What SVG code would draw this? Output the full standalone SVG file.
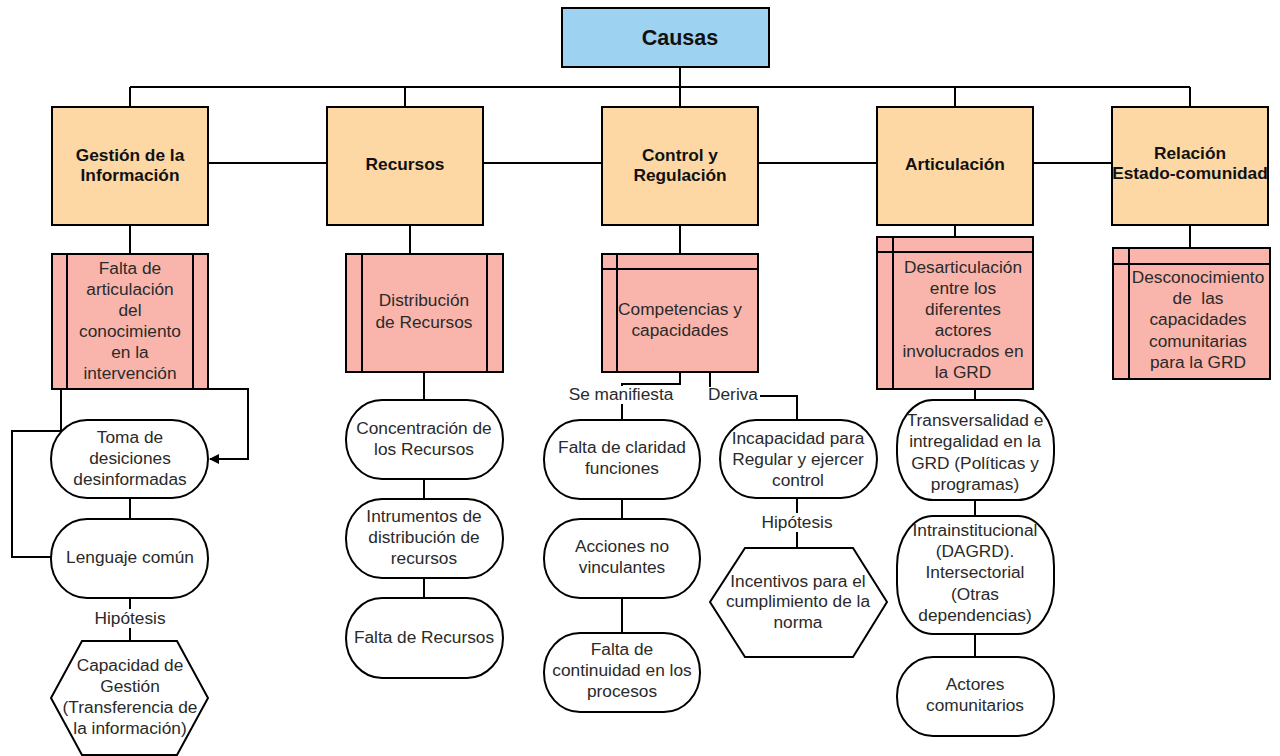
<svg xmlns="http://www.w3.org/2000/svg" width="1280" height="756" viewBox="0 0 1280 756">
<style>
.ln{fill:none;stroke:#000;stroke-width:2}
.top{fill:#9dd2f1;stroke:#000;stroke-width:2}
.cat{fill:#fdd8a4;stroke:#000;stroke-width:2}
.pk{fill:#f9b5ac;stroke:#000;stroke-width:2}
.wh{fill:#fff;stroke:#000;stroke-width:2}
text{font-family:"Liberation Sans",Arial,sans-serif;font-size:17.3px;fill:#2a2a2a;text-anchor:middle}
.b{font-weight:bold;font-size:17.3px;fill:#111}
.t{font-weight:bold;font-size:21.5px;fill:#111}
.lbl{fill:#fff;stroke:none}
</style>
<defs>
<marker id="arr" markerWidth="10" markerHeight="10" refX="9" refY="5" orient="auto" markerUnits="userSpaceOnUse">
<path d="M0,0 L10,5 L0,10 Z" fill="#000"/>
</marker>
</defs>
<g id="connectors">
<path class="ln" d="M680,67 V87 M130,87 H1190 M130,87 V107 M405,87 V107 M680,87 V107 M955,87 V107 M1190,87 V107"/>
<path class="ln" d="M208,163 H327 M483,163 H602 M758,163 H877 M1033,163 H1112"/>
<path class="ln" d="M130,225 V254 M410,225 V254 M680,225 V254 M955,225 V237 M1190,225 V248"/>
<path class="ln" d="M61,389 V431 H12 V557 H51"/>
<path class="ln" d="M208,389 H248 V459 H210" marker-end="url(#arr)"/>
<path class="ln" d="M130,498 V519 M130,598 V641"/>
<path class="ln" d="M424,372 V400 M424,479 V499 M424,578 V598"/>
<path class="ln" d="M680,372 V384 H622 V420 M622,499 V519 M622,598 V633"/>
<path class="ln" d="M710,372 V396 H797 V420 M797,498 V548"/>
<path class="ln" d="M975,389 V400 M975,500 V516 M975,634 V657"/>
<rect class="lbl" x="565" y="386" width="112" height="18"/>
<rect class="lbl" x="706" y="387" width="54" height="17"/>
<rect class="lbl" x="90" y="609" width="80" height="19"/>
<rect class="lbl" x="757" y="513" width="80" height="19"/>
<text x="621" y="400">Se manifiesta</text>
<text x="733" y="400">Deriva</text>
<text x="130" y="624">Hipótesis</text>
<text x="797" y="528">Hipótesis</text>
</g>
<g id="causas">
<rect class="top" x="562" y="8" width="207" height="59"/>
<text class="t" x="680" y="45">Causas</text>
</g>
<g id="gestion">
<rect class="cat" x="52" y="107" width="156" height="118"/>
<text class="b" x="130" y="161">Gestión de la</text>
<text class="b" x="130" y="181">Información</text>
</g>
<g id="recursos">
<rect class="cat" x="327" y="107" width="156" height="118"/>
<text class="b" x="405" y="170">Recursos</text>
</g>
<g id="control">
<rect class="cat" x="602" y="107" width="156" height="118"/>
<text class="b" x="680" y="161">Control y</text>
<text class="b" x="680" y="181">Regulación</text>
</g>
<g id="articulacion">
<rect class="cat" x="877" y="107" width="156" height="118"/>
<text class="b" x="955" y="170">Articulación</text>
</g>
<g id="relacion">
<rect class="cat" x="1112" y="107" width="156" height="118"/>
<text class="b" x="1190" y="159">Relación</text>
<text class="b" x="1190" y="179">Estado-comunidad</text>
</g>
<g id="falta-articulacion">
<rect class="pk" x="52" y="254" width="156" height="135"/>
<path class="ln" d="M67,254 V389 M193,254 V389"/>
<text x="130" y="274">Falta de</text>
<text x="130" y="295">articulación</text>
<text x="130" y="316">del</text>
<text x="130" y="337">conocimiento</text>
<text x="130" y="358">en la</text>
<text x="130" y="379">intervención</text>
</g>
<g id="distribucion">
<rect class="pk" x="346" y="254" width="157" height="118"/>
<path class="ln" d="M362,254 V372 M487,254 V372"/>
<text x="424" y="306">Distribución</text>
<text x="424" y="328">de Recursos</text>
</g>
<g id="competencias">
<rect class="pk" x="602" y="254" width="156" height="118"/>
<path class="ln" d="M602,269 H758 M617,254 V372"/>
<text x="680" y="315">Competencias y</text>
<text x="680" y="336">capacidades</text>
</g>
<g id="desarticulacion">
<rect class="pk" x="877" y="237" width="156" height="152"/>
<path class="ln" d="M877,252 H1033 M893,237 V389"/>
<text x="963" y="273">Desarticulación</text>
<text x="963" y="294">entre los</text>
<text x="963" y="315">diferentes</text>
<text x="963" y="336">actores</text>
<text x="963" y="357">involucrados en</text>
<text x="963" y="378">la GRD</text>
</g>
<g id="desconocimiento">
<rect class="pk" x="1113" y="248" width="157" height="131"/>
<path class="ln" d="M1113,264 H1270 M1129,248 V379"/>
<text x="1198" y="283">Desconocimiento</text>
<text x="1198" y="304">de&#160;&#160;las</text>
<text x="1198" y="325">capacidades</text>
<text x="1198" y="347">comunitarias</text>
<text x="1198" y="368">para la GRD</text>
</g>
<g id="toma-desiciones">
<rect class="wh" x="51" y="420" width="157" height="78" rx="36" ry="39"/>
<text x="130" y="443">Toma de</text>
<text x="130" y="464">desiciones</text>
<text x="130" y="485">desinformadas</text>
</g>
<g id="lenguaje">
<rect class="wh" x="51" y="519" width="157" height="79" rx="36" ry="39"/>
<text x="130" y="563">Lenguaje común</text>
</g>
<g id="capacidad-gestion">
<polygon class="wh" points="82,641 177,641 208,698 177,755 82,755 51,698"/>
<text x="130" y="671">Capacidad de</text>
<text x="130" y="692">Gestión</text>
<text x="130" y="713">(Transferencia de</text>
<text x="130" y="734">la información)</text>
</g>
<g id="concentracion">
<rect class="wh" x="346" y="400" width="157" height="79" rx="36" ry="39"/>
<text x="424" y="434">Concentración de</text>
<text x="424" y="455">los Recursos</text>
</g>
<g id="instrumentos">
<rect class="wh" x="346" y="499" width="157" height="79" rx="36" ry="39"/>
<text x="424" y="522">Intrumentos de</text>
<text x="424" y="543">distribución de</text>
<text x="424" y="564">recursos</text>
</g>
<g id="falta-recursos">
<rect class="wh" x="346" y="598" width="157" height="80" rx="36" ry="40"/>
<text x="424" y="643">Falta de Recursos</text>
</g>
<g id="falta-claridad">
<rect class="wh" x="544" y="420" width="156" height="79" rx="36" ry="39"/>
<text x="622" y="453">Falta de claridad</text>
<text x="622" y="474">funciones</text>
</g>
<g id="acciones">
<rect class="wh" x="544" y="519" width="156" height="79" rx="36" ry="39"/>
<text x="622" y="552">Acciones no</text>
<text x="622" y="573">vinculantes</text>
</g>
<g id="continuidad">
<rect class="wh" x="544" y="633" width="156" height="79" rx="36" ry="39"/>
<text x="622" y="655">Falta de</text>
<text x="622" y="676">continuidad en los</text>
<text x="622" y="697">procesos</text>
</g>
<g id="incapacidad">
<rect class="wh" x="720" y="420" width="157" height="78" rx="36" ry="39"/>
<text x="798" y="444">Incapacidad para</text>
<text x="798" y="465">Regular y ejercer</text>
<text x="798" y="486">control</text>
</g>
<g id="incentivos">
<polygon class="wh" points="745,548 853,548 887,602 853,657 745,657 710,602"/>
<text x="798" y="587">Incentivos para el</text>
<text x="798" y="607">cumplimiento de la</text>
<text x="798" y="628">norma</text>
</g>
<g id="transversalidad">
<rect class="wh" x="897" y="400" width="157" height="100" rx="36" ry="46"/>
<text x="975" y="426">Transversalidad e</text>
<text x="975" y="447">intregalidad en la</text>
<text x="975" y="469">GRD (Políticas y</text>
<text x="975" y="490">programas)</text>
</g>
<g id="intrainstitucional">
<rect class="wh" x="897" y="516" width="157" height="118" rx="36" ry="50"/>
<text x="975" y="536">Intrainstitucional</text>
<text x="975" y="557">(DAGRD).</text>
<text x="975" y="578">Intersectorial</text>
<text x="975" y="600">(Otras</text>
<text x="975" y="621">dependencias)</text>
</g>
<g id="actores">
<rect class="wh" x="897" y="657" width="157" height="79" rx="36" ry="39"/>
<text x="975" y="690">Actores</text>
<text x="975" y="711">comunitarios</text>
</g>
</svg>
